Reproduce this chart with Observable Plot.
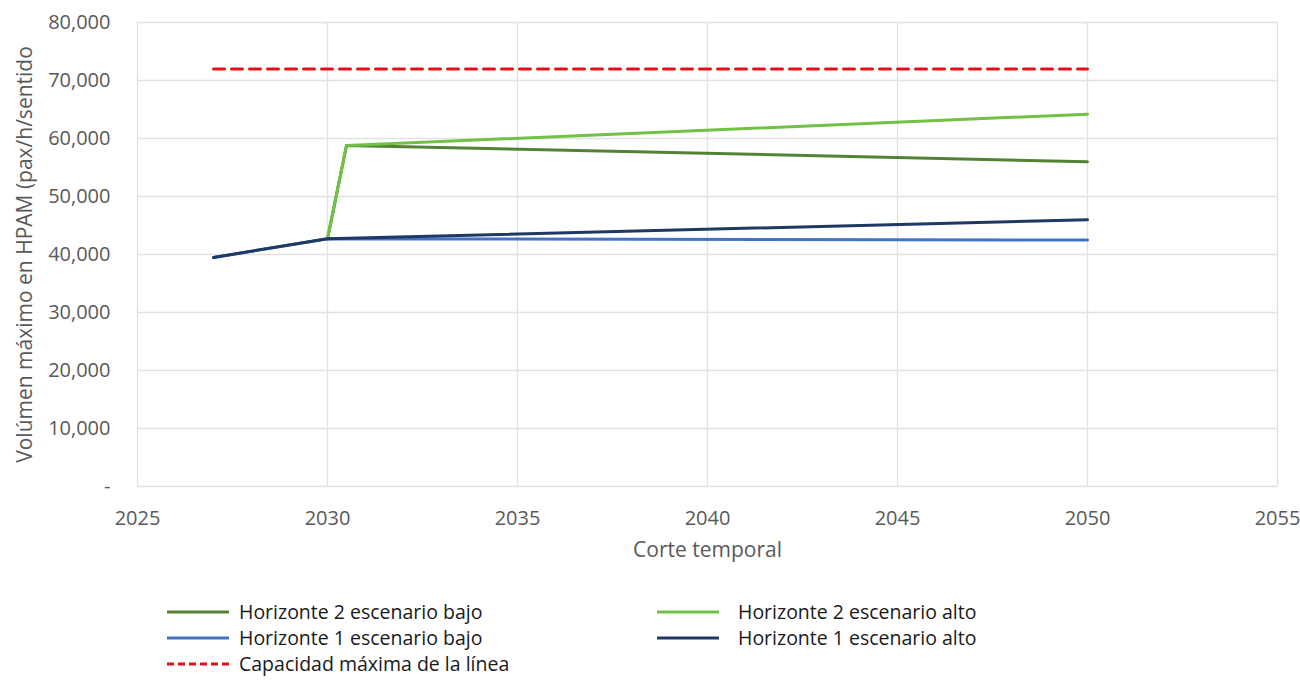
<!DOCTYPE html>
<html>
<head>
<meta charset="utf-8">
<script src="https://cdn.jsdelivr.net/npm/d3@7"></script>
<script src="https://cdn.jsdelivr.net/npm/@observablehq/plot@0.6"></script>
<style>
  html, body { margin: 0; padding: 0; background: #fff; }
  #wrap { position: relative; width: 1300px; height: 692px; font-family: "Open Sans", sans-serif; }
  #legend { position: absolute; left: 0; top: 0; width: 1300px; height: 692px; pointer-events: none; }
  .item { position: absolute; display: flex; align-items: center; font-size: 19.5px; color: #1a1a1a; white-space: nowrap; line-height: 22px; height: 22px; }
</style>
</head>
<body>
<div id="wrap">
  <div id="chart"></div>
  <div id="legend"></div>
</div>
<script>
// ---- data ----
const xTicks = [2025, 2030, 2035, 2040, 2045, 2050, 2055];
const yTicks = [0, 10000, 20000, 30000, 40000, 50000, 60000, 70000, 80000];

const capYears = [2027, 2050];
const capValues = [72000, 72000];

const h1Years = [2027, 2030, 2050];
const h1BajoValues = [39500, 42700, 42500];
const h1AltoValues = [39500, 42700, 46000];

const h2Years = [2030, 2030.5, 2050];
const h2BajoValues = [42700, 58800, 56000];
const h2AltoValues = [42700, 58800, 64200];

const seriesNames = [
  "Horizonte 2 escenario bajo",
  "Horizonte 2 escenario alto",
  "Horizonte 1 escenario bajo",
  "Horizonte 1 escenario alto",
  "Capacidad máxima de la línea"
];
const seriesColors = ["#548235", "#72C144", "#4472C4", "#1F3864", "#E3101A"];

const toRows = (xs, ys) => xs.map((x, i) => ({x, y: ys[i]}));

const fmt = d3.format(",");

const chart = Plot.plot({
  width: 1300,
  height: 565,
  marginLeft: 137,
  marginRight: 23,
  marginTop: 22,
  marginBottom: 79,
  style: {fontFamily: "'Open Sans', sans-serif", background: "#fff"},
  x: {domain: [2025, 2055]},
  y: {domain: [0, 80000]},
  marks: [
    Plot.gridX(xTicks, {stroke: "#e1e1e1", strokeOpacity: 1, strokeWidth: 1.3}),
    Plot.gridY(yTicks, {stroke: "#e1e1e1", strokeOpacity: 1, strokeWidth: 1.3}),
    Plot.axisX(xTicks, {
      tickSize: 0, tickPadding: 24, fontSize: 20, color: "#595959",
      tickFormat: d => String(d),
      label: "Corte temporal", labelAnchor: "center", labelArrow: "none", labelOffset: 70
    }),
    Plot.axisY(yTicks, {
      tickSize: 0, tickPadding: 27, fontSize: 20, color: "#595959",
      tickFormat: d => d === 0 ? "-" : fmt(d),
      label: "Volúmen máximo en HPAM (pax/h/sentido", labelAnchor: "center", labelArrow: "none", labelOffset: 120
    }),
    Plot.line(toRows(capYears, capValues), {x: "x", y: "y", stroke: seriesColors[4], strokeWidth: 3, strokeDasharray: "11,7"}),
    Plot.line(toRows(h2Years, h2BajoValues), {x: "x", y: "y", stroke: seriesColors[0], strokeWidth: 3}),
    Plot.line(toRows(h2Years, h2AltoValues), {x: "x", y: "y", stroke: seriesColors[1], strokeWidth: 3}),
    Plot.line(toRows(h1Years, h1BajoValues), {x: "x", y: "y", stroke: seriesColors[2], strokeWidth: 3}),
    Plot.line(toRows(h1Years, h1AltoValues), {x: "x", y: "y", stroke: seriesColors[3], strokeWidth: 3})
  ]
});
document.getElementById("chart").appendChild(chart);

// axis titles slightly larger than tick labels
chart.querySelectorAll("g[aria-label='x-axis label'] text, g[aria-label='y-axis label'] text").forEach(t => {
  t.setAttribute("font-size", "21");
});

// ---- legend ----
const legendPos = [
  {left: 167, top: 612, gap: 10},
  {left: 657, top: 612, gap: 19},
  {left: 167, top: 638, gap: 10},
  {left: 657, top: 638, gap: 19},
  {left: 167, top: 664, gap: 10}
];
const legend = document.getElementById("legend");
seriesNames.forEach((name, i) => {
  const div = document.createElement("div");
  div.className = "item";
  div.style.left = legendPos[i].left + "px";
  div.style.top = (legendPos[i].top - 11) + "px";
  const dash = i === 4 ? 'stroke-dasharray="7,4"' : "";
  div.innerHTML = `<svg width="62" height="10" style="margin-right:${legendPos[i].gap}px"><line x1="0" y1="5" x2="62" y2="5" stroke="${seriesColors[i]}" stroke-width="3" ${dash}/></svg><span>${name}</span>`;
  legend.appendChild(div);
});
</script>
</body>
</html>
